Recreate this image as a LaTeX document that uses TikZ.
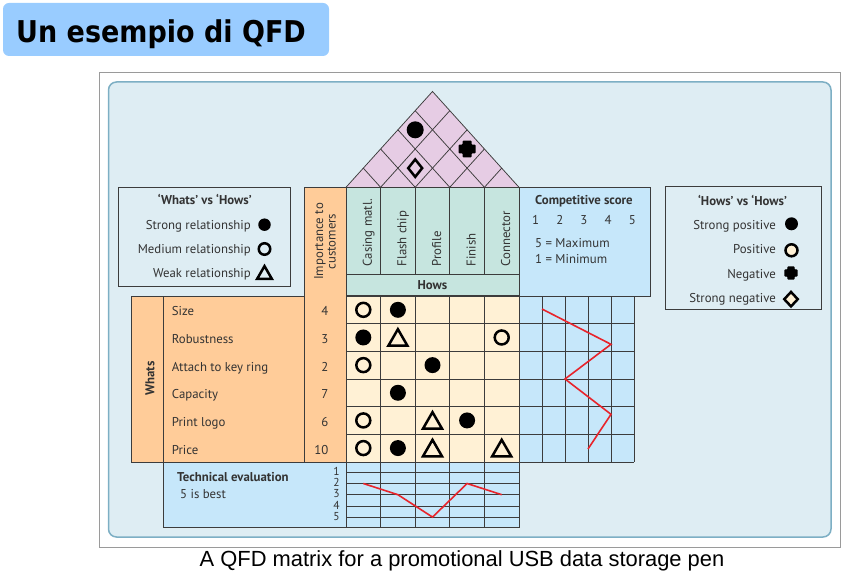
\documentclass[tikz,border=0pt]{standalone}
\usepackage{fontspec}
\setmainfont{PT Sans}
\newfontfamily\titlefont[FakeStretch=0.9]{DejaVu Sans}
\newfontfamily\captionfont{Liberation Sans}
\usepackage{xcolor}
\usetikzlibrary{calc}
\usetikzlibrary{positioning}
\usetikzlibrary{shapes.geometric}

\newcommand\qfdfont{\fontsize{12.8pt}{12.5pt}\selectfont}

\definecolor{slideblue}{HTML}{99CCFF}
\definecolor{framegray}{HTML}{9A9A9A}
\definecolor{panelbg}{HTML}{DEEDF3}
\definecolor{panelline}{HTML}{7DAFC4}
\definecolor{roofpink}{HTML}{E6CCE4}
\definecolor{howsgreen}{HTML}{C6E5DF}
\definecolor{whatsorange}{HTML}{FFCC99}
\definecolor{cellcream}{HTML}{FFF1D5}
\definecolor{scoreblue}{HTML}{C6E7FA}
\definecolor{gridline}{HTML}{3C3C3C}
\definecolor{textgray}{HTML}{333333}
\definecolor{plotred}{HTML}{E8242B}

\tikzset{
    grid line/.style={
        draw=gridline,
        line width=0.75pt,
    },
    panel/.style={
        fill=panelbg,
        draw=panelline,
        line width=1.5pt,
        rounded corners=8pt,
    },
    label text/.style={
        inner sep=0,
        text=textgray,
        font=\qfdfont,
    },
    head text/.style={
        label text,
        font=\qfdfont\bfseries,
    },
    strong rel/.style={
        circle,
        fill=black,
        minimum size=#1,
        inner sep=0,
    },
    strong rel/.default=16pt,
    medium rel/.style={
        circle,
        draw=black,
        line width=2.5pt,
        minimum size=#1,
        inner sep=0,
    },
    medium rel/.default=14pt,
    weak rel/.style={
        regular polygon,
        regular polygon sides=3,
        draw=black,
        line width=2.5pt,
        minimum size=#1,
        inner sep=0,
        yshift=-#1/8,
    },
    weak rel/.default=22pt,
    strong neg/.style={
        diamond,
        draw=black,
        line width=2.5pt,
        minimum width=15pt,
        minimum height=18.5pt,
        inner sep=0,
    },
    neg cross/.pic={
        \fill[black, rounded corners=0.8pt] (-4.4,-8.4) -- (4.4,-8.4) -- (4.4,-4.4) -- (8.4,-4.4)
            -- (8.4,4.4) -- (4.4,4.4) -- (4.4,8.4) -- (-4.4,8.4) -- (-4.4,4.4) -- (-8.4,4.4)
            -- (-8.4,-4.4) -- (-4.4,-4.4) -- cycle;
    },
    score line/.style={
        draw=plotred,
        line width=1.6pt,
    },
}

\begin{document}
\begin{tikzpicture}[x=1pt, y=-1pt, font=\qfdfont]
    \useasboundingbox (0,0) rectangle (857,580);

    % title and frame
    \fill[slideblue, rounded corners=6pt] (3,3) rectangle (329,56);
    \node[anchor=base west, inner sep=0, font=\titlefont\bfseries\fontsize{30pt}{34pt}\selectfont] (title) at (16,42.7) {Un esempio di QFD};
    \draw[framegray, line width=0.8pt] (99.3,72.3) rectangle (840.5,547);
    \draw[panel] (108.5,82) rectangle (831,537);

    % roof
    \foreach \i in {0,...,5}
    {
        \foreach \j in {\i,...,5}
        {
            \coordinate (p\i\j) at ({346+17.3*(\i+\j)}, {187.3-19.16*(\j-\i)});
        }
    }
    \fill[roofpink] (p00) -- (p05) -- (p55) -- cycle;
    \foreach \k in {1,...,4}
    {
        \draw[grid line] (p\k\k) -- (p\k5);
        \draw[grid line] (p\k\k) -- (p0\k);
    }
    \draw[grid line] (p00) -- (p05) -- (p55);
    \node[strong rel=17pt] (roof14) at ($(p04)!0.5!(p13)$) {};
    \node[strong neg] (roof23) at ($(p13)!0.5!(p22)$) {};
    \pic (roof35) at ($(p25)!0.5!(p34)$) {neg cross};

    % hows
    \filldraw[fill=howsgreen, grid line] (346,187.3) rectangle (519,274.3);
    \filldraw[fill=howsgreen, grid line] (346,274.3) rectangle (519,295.5);
    \foreach \k in {1,...,4}
    {
        \draw[grid line] ({346+34.6*\k},187.3) -- ({346+34.6*\k},274.3);
    }
    \foreach \how [count=\n] in {Casing matl., Flash chip, Profile, Finish, Connector}
    {
        \node[label text, rotate=90, anchor=base west] (how\n) at ({346+34.6*(\n-0.5)+8.5}, 266.5) {\how};
    }
    \node[head text] (hows) at (432.5,285) {Hows};

    % whats and importance
    \filldraw[fill=whatsorange, grid line] (304,187.3) rectangle (346,462);
    \filldraw[fill=whatsorange, grid line] (131,296) rectangle (304,462);
    \draw[grid line] (163.3,296) -- (163.3,462);
    \node[label text, rotate=90, align=center] (importance) at (325,241.5) {Importance to\\customers};
    \node[head text, rotate=90] (whats) at (150,378.5) {Whats};
    \foreach \what/\imp [count=\n] in {Size/4, Robustness/3, Attach to key ring/2, Capacity/7, Print logo/6, Price/10}
    {
        \node[label text, anchor=base west] (what\n) at (171.7, {296+27.65*(\n-0.5)+6}) {\what};
        \node[label text, anchor=base east] (imp\n) at (328.5, {296+27.65*(\n-0.5)+6}) {\imp};
    }

    % relationship matrix and competitive grid
    \filldraw[fill=cellcream, grid line] (346,296) rectangle (519,462);
    \fill[scoreblue] (519,296) rectangle (634,462);
    \foreach \k in {1,...,4}
    {
        \draw[grid line] ({346+34.6*\k},296) -- ({346+34.6*\k},462);
    }
    \foreach \k in {0,...,5}
    {
        \draw[grid line] ({519+23*\k},296) -- ({519+23*\k},462);
    }
    \foreach \k in {1,...,5}
    {
        \draw[grid line] (346,{296+27.65*\k}) -- (634,{296+27.65*\k});
    }
    \draw[grid line] (519,462) -- (634,462);
    \foreach \col/\row/\kind in {1/1/medium rel, 2/1/strong rel,
        1/2/strong rel, 2/2/weak rel, 5/2/medium rel,
        1/3/medium rel, 3/3/strong rel,
        2/4/strong rel,
        1/5/medium rel, 3/5/weak rel, 4/5/strong rel,
        1/6/medium rel, 2/6/strong rel, 3/6/weak rel, 5/6/weak rel}
    {
        \node[\kind] (sym\col\row) at ({346+34.6*(\col-0.5)}, {296+27.65*(\row-0.5)}) {};
    }

    % competitive score
    \filldraw[fill=scoreblue, grid line] (519,187.3) rectangle (650,296);
    \node[head text, anchor=base west] (compete) at (535,205) {Competitive score};
    \foreach \s in {1,...,5}
    {
        \node[label text, anchor=base] (score\s) at ({511.5+24.15*\s},225) {\s};
    }
    \node[label text, anchor=base west] (maxline) at (535,247.7) {5 = Maximum};
    \node[label text, below=6.5pt of maxline.south west, anchor=north west] (minline) {1 = Minimum};
    \foreach \s/\y [count=\n] in {1/309, 4/344.3, 2/379, 4/414.3, 3/449}
    {
        \coordinate (cs\n) at ({519+23*\s}, \y);
    }
    \draw[score line] (cs1) -- (cs2) -- (cs3) -- (cs4) -- (cs5);

    % technical evaluation
    \filldraw[fill=scoreblue, grid line] (163.3,462) rectangle (519,527.7);
    \foreach \k in {0,...,4}
    {
        \draw[grid line] ({346+34.6*\k},462) -- ({346+34.6*\k},527.7);
    }
    \foreach \v in {1,...,5}
    {
        \draw[grid line] (346,{472.3+11.2*(\v-1)}) -- (519,{472.3+11.2*(\v-1)});
        \node[label text, font=\fontsize{11.5pt}{12pt}\selectfont] (level\v) at (336.5,{472.3+11.2*(\v-1)-0.8}) {\v};
    }
    \node[head text, anchor=base west] (techeval) at (177,481.7) {Technical evaluation};
    \node[label text, anchor=base west] (best) at (180,498.3) {5 is best};
    \foreach \v [count=\n] in {2,3,5,2,3}
    {
        \coordinate (te\n) at ({346+34.6*(\n-0.5)}, {472.3+11.2*(\v-1)});
    }
    \draw[score line] (te1) -- (te2) -- (te3) -- (te4) -- (te5);

    % legend: whats vs hows
    \draw[grid line] (118.3,187.3) rectangle (290.7,286.7);
    \node[head text] (whatslegend) at (204.7,199.5) {‘Whats’ vs ‘Hows’};
    \node[label text, anchor=base east] (strongtxt) at (251,229.3) {Strong relationship};
    \node[label text, anchor=base east] (mediumtxt) at (251,253.3) {Medium relationship};
    \node[label text, anchor=base east] (weaktxt) at (251,277.3) {Weak relationship};
    \node[strong rel=12.5pt] (strongsym) at (264.5,224.7) {};
    \node[medium rel=11.5pt] (mediumsym) at (264.5,249) {};
    \node[weak rel=17pt] (weaksym) at (264.5,272.5) {};

    % legend: hows vs hows
    \draw[grid line] (665,186) rectangle (821.7,309.3);
    \node[head text] (howslegend) at (742.5,200) {‘Hows’ vs ‘Hows’};
    \node[label text, anchor=base east] (strongpostxt) at (776,229.3) {Strong positive};
    \node[label text, anchor=base east] (postxt) at (776,254) {Positive};
    \node[label text, anchor=base east] (negtxt) at (776,278.3) {Negative};
    \node[label text, anchor=base east] (strongnegtxt) at (776,302.7) {Strong negative};
    \node[strong rel=13pt] (strongpossym) at (791.5,223.8) {};
    \node[medium rel=12pt, fill=cellcream] (possym) at (791.5,250.3) {};
    \pic[scale=0.8] (negsym) at (791,273) {neg cross};
    \node[strong neg, fill=cellcream, minimum width=14.5pt, minimum height=15.5pt] (strongnegsym) at (791,299.2) {};

    % caption
    \node[anchor=base, inner sep=0, font=\captionfont\fontsize{21.9pt}{26pt}\selectfont] (caption) at (462,566.5) {A QFD matrix for a promotional USB data storage pen};
\end{tikzpicture}
\end{document}
